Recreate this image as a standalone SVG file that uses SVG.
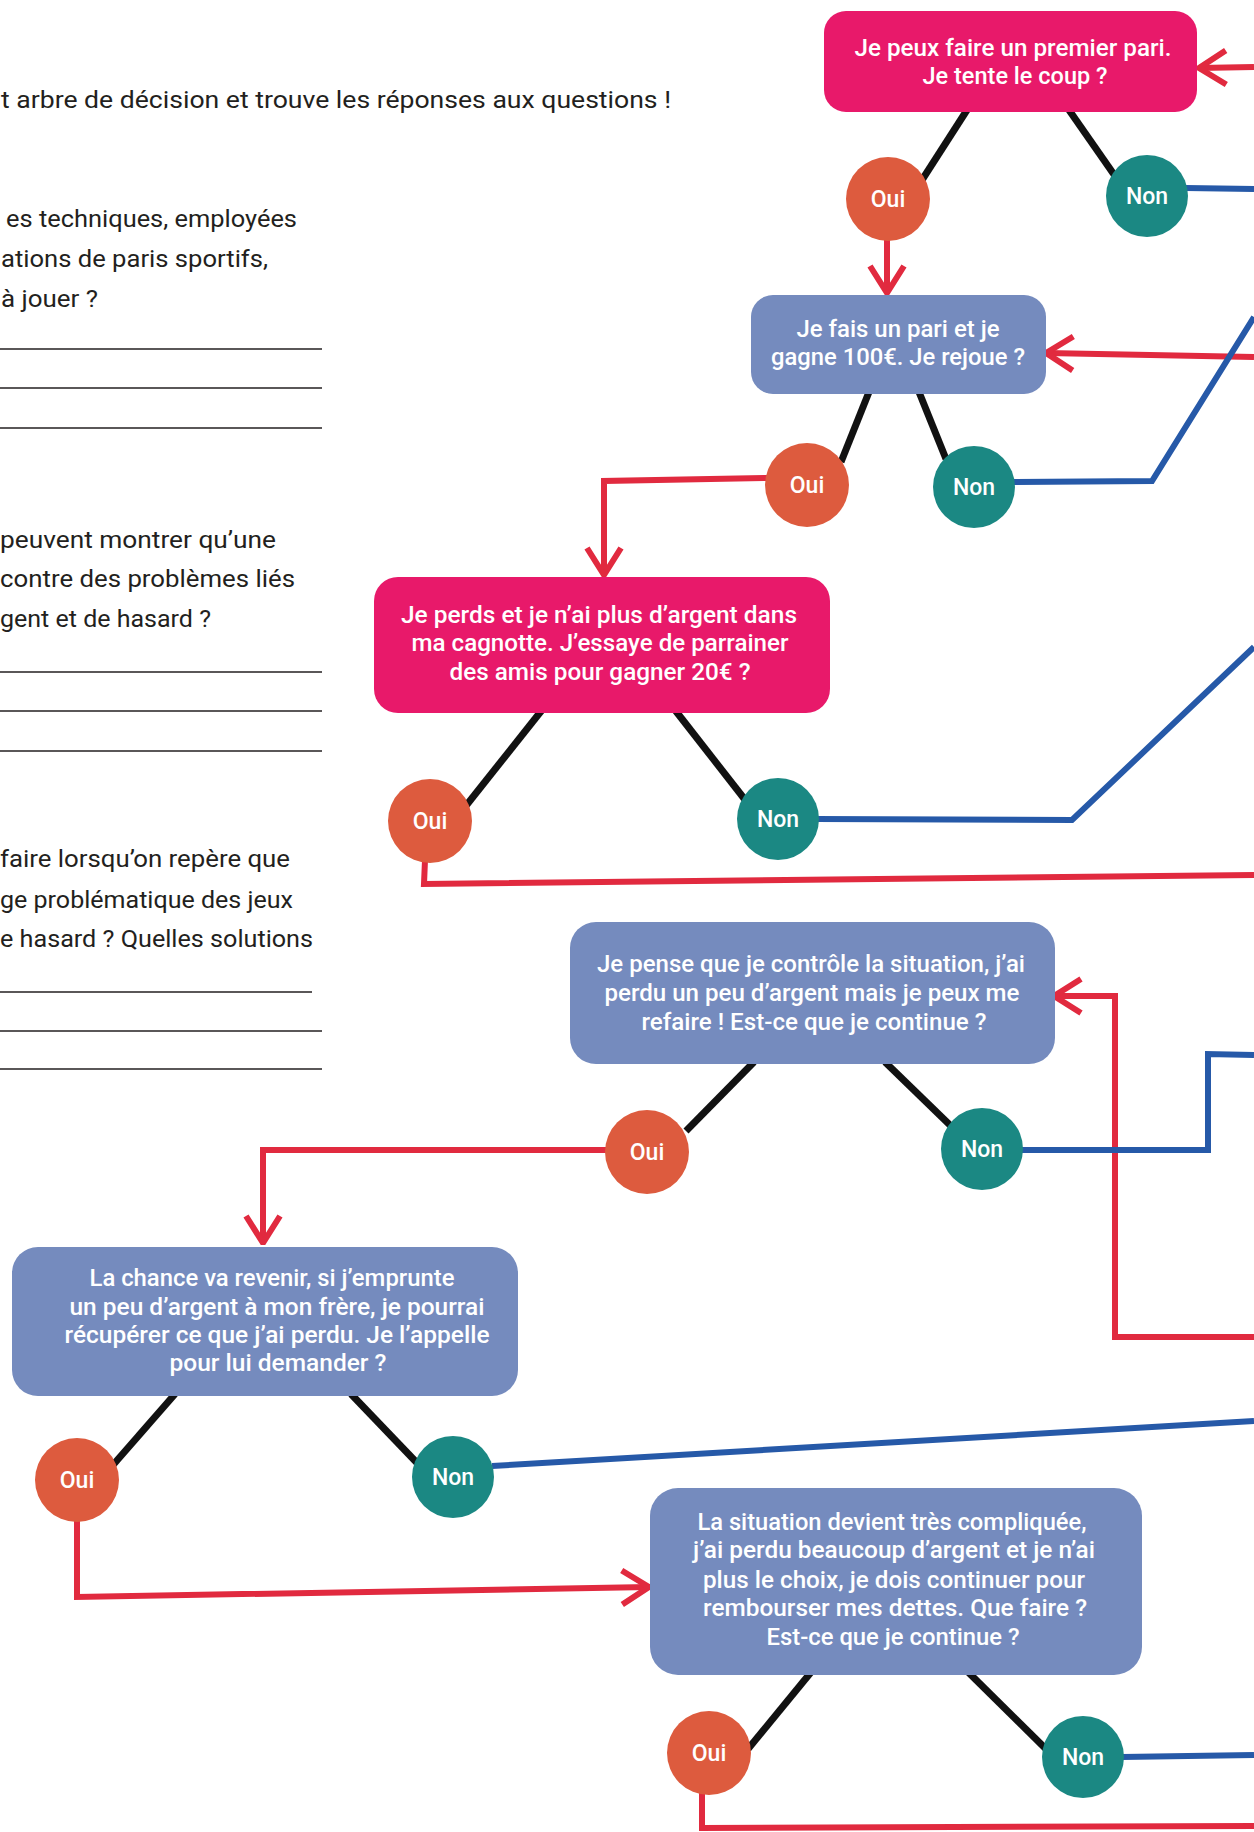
<svg xmlns="http://www.w3.org/2000/svg" width="1254" height="1832" viewBox="0 0 1254 1832">
<style>
.q{font-family:Roboto,"Liberation Sans",sans-serif;font-size:24px;fill:#231f20}
.ln{stroke:#231f20;stroke-width:1.5}
.bt{font-family:Roboto,"Liberation Sans",sans-serif;font-size:23px;font-weight:500;fill:#fff;text-anchor:middle}
.ct{font-family:Roboto,"Liberation Sans",sans-serif;font-size:23px;font-weight:500;fill:#fff;text-anchor:middle}
.pink{fill:#E8196A}
.blue{fill:#758BBE}
.oui{fill:#DD5B3E}
.non{fill:#1B8883}
.blk{stroke:#111;stroke-width:7;fill:none;stroke-linecap:butt}
.red{stroke:#E12A3F;stroke-width:6;fill:none;stroke-linejoin:miter}
.bl{stroke:#2659A8;stroke-width:6;fill:none;stroke-linejoin:miter}
.arr{marker-end:url(#arr)}
</style>
<defs>
<marker id="arr" viewBox="0 0 32 40" refX="30" refY="20" markerWidth="32" markerHeight="40" markerUnits="userSpaceOnUse" orient="auto">
<path d="M3,3 L30,20 L3,37" fill="none" stroke="#E12A3F" stroke-width="6" stroke-linejoin="round"/>
</marker>
</defs>
<rect width="1254" height="1832" fill="#fff"/>
<g id="questions">
<text class="q" x="1" y="108" textLength="670" lengthAdjust="spacingAndGlyphs">t arbre de décision et trouve les réponses aux questions !</text>
<text class="q" x="6" y="227" textLength="291" lengthAdjust="spacingAndGlyphs">es techniques, employées</text>
<text class="q" x="1" y="267" textLength="267" lengthAdjust="spacingAndGlyphs">ations de paris sportifs,</text>
<text class="q" x="1" y="307" textLength="97" lengthAdjust="spacingAndGlyphs">à jouer ?</text>
<line class="ln" x1="0" y1="349" x2="322" y2="349"/>
<line class="ln" x1="0" y1="388" x2="322" y2="388"/>
<line class="ln" x1="0" y1="428" x2="322" y2="428"/>
<text class="q" x="0" y="548" textLength="276" lengthAdjust="spacingAndGlyphs">peuvent montrer qu’une</text>
<text class="q" x="0" y="587" textLength="295" lengthAdjust="spacingAndGlyphs">contre des problèmes liés</text>
<text class="q" x="0" y="627" textLength="211" lengthAdjust="spacingAndGlyphs">gent et de hasard ?</text>
<line class="ln" x1="0" y1="672" x2="322" y2="672"/>
<line class="ln" x1="0" y1="711" x2="322" y2="711"/>
<line class="ln" x1="0" y1="751" x2="322" y2="751"/>
<text class="q" x="0" y="867" textLength="290" lengthAdjust="spacingAndGlyphs">faire lorsqu’on repère que</text>
<text class="q" x="0" y="908" textLength="293" lengthAdjust="spacingAndGlyphs">ge problématique des jeux</text>
<text class="q" x="0" y="947" textLength="313" lengthAdjust="spacingAndGlyphs">e hasard ? Quelles solutions</text>
<line class="ln" x1="0" y1="992" x2="312" y2="992"/>
<line class="ln" x1="0" y1="1031" x2="322" y2="1031"/>
<line class="ln" x1="0" y1="1069" x2="322" y2="1069"/>
</g>
<g id="connectors">
<line class="blk" x1="967" y1="110" x2="922" y2="180"/>
<line class="blk" x1="1069" y1="110" x2="1115" y2="176"/>
<line class="blk" x1="869" y1="392" x2="841" y2="462"/>
<line class="blk" x1="919" y1="392" x2="946" y2="459"/>
<line class="blk" x1="542" y1="710" x2="465" y2="807"/>
<line class="blk" x1="675" y1="710" x2="746" y2="801"/>
<line class="blk" x1="754" y1="1062" x2="686" y2="1131"/>
<line class="blk" x1="885" y1="1062" x2="953" y2="1128"/>
<line class="blk" x1="175" y1="1394" x2="113" y2="1465"/>
<line class="blk" x1="351" y1="1394" x2="419" y2="1465"/>
<line class="blk" x1="812" y1="1671" x2="748" y2="1749"/>
<line class="blk" x1="967" y1="1671" x2="1048" y2="1751"/>
<polyline class="red arr" points="1254,67 1199,68"/>
<polyline class="red arr" points="887,238 887,293"/>
<polyline class="red arr" points="1254,357 1046,353"/>
<polyline class="red arr" points="768,478 604,481 604,575"/>
<polyline class="red" points="425,860 424,884 1254,875"/>
<polyline class="red arr" points="1254,1337 1115,1337 1115,996 1054,996"/>
<polyline class="red arr" points="608,1150 263,1150 263,1243"/>
<polyline class="red arr" points="77,1520 77,1597 649,1587"/>
<polyline class="red" points="702,1793 702,1828 1254,1826"/>
<polyline class="bl" points="1186,188 1254,189"/>
<polyline class="bl" points="1012,482 1152,481 1254,317"/>
<polyline class="bl" points="816,819 1072,820 1254,647"/>
<polyline class="bl" points="1021,1150 1208,1150 1208,1054 1254,1055"/>
<polyline class="bl" points="492,1466 1254,1421"/>
<polyline class="bl" points="1122,1757 1254,1755"/>
</g>
<g id="n1">
<rect class="pink" x="824" y="11" width="373" height="101" rx="22"/>
<text class="bt" x="1013" y="56" textLength="317" lengthAdjust="spacingAndGlyphs">Je peux faire un premier pari.</text>
<text class="bt" x="1015" y="84" textLength="185" lengthAdjust="spacingAndGlyphs">Je tente le coup ?</text>
</g>
<g id="n1-oui"><circle class="oui" cx="888" cy="199" r="42"/><text class="ct" x="888" y="207">Oui</text></g>
<g id="n1-non"><circle class="non" cx="1147" cy="196" r="41"/><text class="ct" x="1147" y="204">Non</text></g>
<g id="n2">
<rect class="blue" x="751" y="295" width="295" height="99" rx="22"/>
<text class="bt" x="898" y="337" textLength="203" lengthAdjust="spacingAndGlyphs">Je fais un pari et je</text>
<text class="bt" x="898" y="365" textLength="254" lengthAdjust="spacingAndGlyphs">gagne 100€. Je rejoue ?</text>
</g>
<g id="n2-oui"><circle class="oui" cx="807" cy="485" r="42"/><text class="ct" x="807" y="493">Oui</text></g>
<g id="n2-non"><circle class="non" cx="974" cy="487" r="41"/><text class="ct" x="974" y="495">Non</text></g>
<g id="n3">
<rect class="pink" x="374" y="577" width="456" height="136" rx="24"/>
<text class="bt" x="599" y="623" textLength="396" lengthAdjust="spacingAndGlyphs">Je perds et je n’ai plus d’argent dans</text>
<text class="bt" x="600" y="651" textLength="377" lengthAdjust="spacingAndGlyphs">ma cagnotte. J’essaye de parrainer</text>
<text class="bt" x="600" y="680" textLength="301" lengthAdjust="spacingAndGlyphs">des amis pour gagner 20€ ?</text>
</g>
<g id="n3-oui"><circle class="oui" cx="430" cy="821" r="42"/><text class="ct" x="430" y="829">Oui</text></g>
<g id="n3-non"><circle class="non" cx="778" cy="819" r="41"/><text class="ct" x="778" y="827">Non</text></g>
<g id="n4">
<rect class="blue" x="570" y="922" width="485" height="142" rx="26"/>
<text class="bt" x="811" y="972" textLength="428" lengthAdjust="spacingAndGlyphs">Je pense que je contrôle la situation, j’ai</text>
<text class="bt" x="812" y="1001" textLength="415" lengthAdjust="spacingAndGlyphs">perdu un peu d’argent mais je peux me</text>
<text class="bt" x="814" y="1030" textLength="345" lengthAdjust="spacingAndGlyphs">refaire ! Est-ce que je continue ?</text>
</g>
<g id="n4-oui"><circle class="oui" cx="647" cy="1152" r="42"/><text class="ct" x="647" y="1160">Oui</text></g>
<g id="n4-non"><circle class="non" cx="982" cy="1149" r="41"/><text class="ct" x="982" y="1157">Non</text></g>
<g id="n5">
<rect class="blue" x="12" y="1247" width="506" height="149" rx="26"/>
<text class="bt" x="272" y="1286" textLength="365" lengthAdjust="spacingAndGlyphs">La chance va revenir, si j’emprunte</text>
<text class="bt" x="277" y="1315" textLength="415" lengthAdjust="spacingAndGlyphs">un peu d’argent à mon frère, je pourrai</text>
<text class="bt" x="277" y="1343" textLength="425" lengthAdjust="spacingAndGlyphs">récupérer ce que j’ai perdu. Je l’appelle</text>
<text class="bt" x="278" y="1371" textLength="217" lengthAdjust="spacingAndGlyphs">pour lui demander ?</text>
</g>
<g id="n5-oui"><circle class="oui" cx="77" cy="1480" r="42"/><text class="ct" x="77" y="1488">Oui</text></g>
<g id="n5-non"><circle class="non" cx="453" cy="1477" r="41"/><text class="ct" x="453" y="1485">Non</text></g>
<g id="n6">
<rect class="blue" x="650" y="1488" width="492" height="187" rx="28"/>
<text class="bt" x="892" y="1530" textLength="389" lengthAdjust="spacingAndGlyphs">La situation devient très compliquée,</text>
<text class="bt" x="894" y="1558" textLength="402" lengthAdjust="spacingAndGlyphs">j’ai perdu beaucoup d’argent et je n’ai</text>
<text class="bt" x="894" y="1588" textLength="382" lengthAdjust="spacingAndGlyphs">plus le choix, je dois continuer pour</text>
<text class="bt" x="895" y="1616" textLength="384" lengthAdjust="spacingAndGlyphs">rembourser mes dettes. Que faire ?</text>
<text class="bt" x="893" y="1645" textLength="253" lengthAdjust="spacingAndGlyphs">Est-ce que je continue ?</text>
</g>
<g id="n6-oui"><circle class="oui" cx="709" cy="1753" r="42"/><text class="ct" x="709" y="1761">Oui</text></g>
<g id="n6-non"><circle class="non" cx="1083" cy="1757" r="41"/><text class="ct" x="1083" y="1765">Non</text></g>
</svg>
